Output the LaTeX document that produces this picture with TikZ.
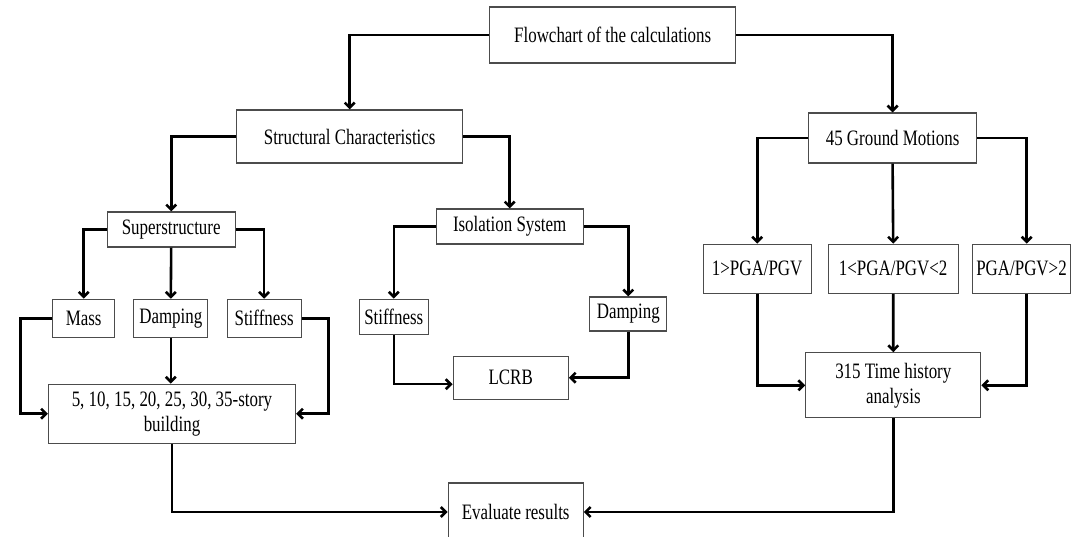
\documentclass[tikz,border=0pt]{standalone}
\usepackage{fontspec}
\setmainfont{Liberation Serif}[FakeStretch=0.77]
\usetikzlibrary{arrows.meta}

\begin{document}
\begin{tikzpicture}[x=1pt, y=-1pt,
		box/.style={draw=black!70, line width=1.2pt, inner sep=0pt, align=center, font=\fontsize{22}{25}\selectfont},
		link/.style={line width=2.6pt, -{Straight Barb[length=5pt,width=10pt]}}]
	
		\useasboundingbox (0,0) rectangle (1080,537);
		\clip (0,0) rectangle (1080,537);
		
		\node[box, minimum width=246, minimum height=56] (flow) at (612.7, 35) {Flowchart of the calculations};
		
		\node[box, minimum width=226, minimum height=53] (struct) at (349.7, 136.5) {Structural Characteristics};
		\node[box, minimum width=168, minimum height=50] (motions) at (892.6, 138) {45 Ground Motions};
		
		\node[box, minimum width=128, minimum height=35] (super) at (171.2, 229.5) {Superstructure};
		\node[box, minimum width=147, minimum height=35] (isol) at (509.7, 226.5) {Isolation System};
		
		\node[box, minimum width=62, minimum height=38] (mass) at (83.7, 318.3) {Mass};
		\node[box, minimum width=74, minimum height=38] (damp) at (170.8, 318.3) {Damping};
		\node[box, minimum width=74, minimum height=38] (stiff) at (264.1, 318.3) {Stiffness};
		
		\node[box, minimum width=69, minimum height=35] (isostiff) at (393.8, 316.7) {Stiffness};
		\node[box, minimum width=77, minimum height=34] (isodamp) at (628.3, 314) {Damping};
		\node[box, minimum width=115, minimum height=43] (lcrb) at (510.7, 377.7) {LCRB};
		
		\node[box, minimum width=247, minimum height=59] (build) at (172, 413.7) {5, 10, 15, 20, 25, 30, 35-story\\ building};
		
		\node[box, minimum width=108, minimum height=49] (ratioa) at (757.2, 268.7) {1>PGA/PGV};
		\node[box, minimum width=130, minimum height=49] (ratiob) at (893.2, 268.7) {1<PGA/PGV<2};
		\node[box, minimum width=98, minimum height=49] (ratioc) at (1021.5, 268.7) {PGA/PGV>2};
		
		\node[box, minimum width=175, minimum height=65] (history) at (893.3, 385.3) {315 Time history\\ analysis};
		
		\node[box, minimum width=135, minimum height=58] (results) at (515.7, 512) {Evaluate results};
		
		\draw[link] (flow.west) -| (struct.north);
		\draw[link] (flow.east) -| (motions.north);
		
		\draw[link] (struct.west) -| (super.north);
		\draw[link] (struct.east) -| (isol.north);
		
		\draw[link] (super.west) -| (mass.north);
		\draw[link] (super.south) -- (damp.north);
		\draw[link] (super.east) -| (stiff.north);
		
		\draw[link] (isol.west) -| (isostiff.north);
		\draw[link] (isol.east) -| (isodamp.north);
		\draw[link] (isostiff.south) |- ([yshift=-6.5pt]lcrb.west);
		\draw[link] (isodamp.south) |- (lcrb.east);
		
		\draw[link] (mass.west) -- ++(-31.7,0) |- (build.west);
		\draw[link] (damp.south) -- (damp.south |- build.north);
		\draw[link] (stiff.east) -- ++(26.8,0) |- (build.east);
		
		\draw[link] (motions.west) -| (ratioa.north);
		\draw[link] (motions.south) -- (ratiob.north);
		\draw[link] (motions.east) -| ([xshift=5.2pt]ratioc.north);
		
		\draw[link] (ratioa.south) |- (history.west);
		\draw[link] (ratiob.south) -- (history.north);
		\draw[link] ([xshift=5.2pt]ratioc.south) |- (history.east);
		
		\draw[link] (build.south) |- (results.west);
		\draw[link] (history.south) |- (results.east);
	
\end{tikzpicture}
\end{document}
